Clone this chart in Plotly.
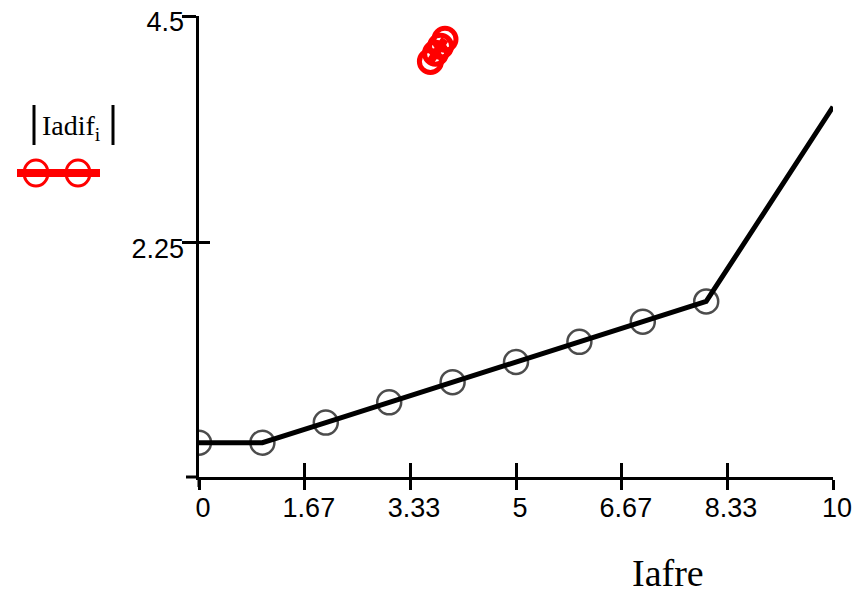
import plotly.graph_objects as go

# ---- data ----
iafre = [0, 1, 2, 3, 4, 5, 6, 7, 8, 10]
iadif = [0.27, 0.27, 0.47, 0.67, 0.87, 1.07, 1.27, 1.47, 1.67, 3.6]
red_x = [3.65, 3.73, 3.81, 3.88]
red_y = [4.05, 4.13, 4.20, 4.27]
x_ticks = [0, 1.67, 3.33, 5, 6.67, 8.33, 10]
x_tick_text = ["0", "1.67", "3.33", "5", "6.67", "8.33", "10"]
y_ticks = [2.25, 4.5]
y_tick_text = ["2.25", "4.5"]

# page is rendered with an 8px body margin; plan in page pixels
OFF = 8
PAGE_W, PAGE_H = 866, 591
W, H = PAGE_W - OFF, PAGE_H - OFF
PL, PR, PT, PB = 199, 833, 16, 477          # plot area in page pixels
L, T = PL - OFF, PT - OFF
R, B = W - (PR - OFF), H - (PB - OFF)
PW, PH = PR - PL, PB - PT

def px(x):
    return (x - PL) / PW

def py(y):
    return (PB - y) / PH

fig = go.Figure()

black_sizes = [24] * (len(iafre) - 1) + [0]
fig.add_trace(go.Scatter(
    x=iafre, y=iadif, mode="lines+markers",
    line=dict(color="black", width=5),
    marker=dict(symbol="circle-open", size=black_sizes, color="black",
                line=dict(color="black", width=2.5)),
    showlegend=False, hoverinfo="skip"))

fig.add_trace(go.Scatter(
    x=red_x, y=red_y, mode="lines+markers",
    line=dict(color="#ff0000", width=8),
    marker=dict(symbol="circle-open", size=22, color="#ff0000",
                line=dict(color="#ff0000", width=5)),
    showlegend=False, hoverinfo="skip"))

# dummy trace to activate overlay axes
fig.add_trace(go.Scatter(x=[None], y=[None], xaxis="x2", yaxis="y2",
                         showlegend=False, hoverinfo="skip"))

axis_font = dict(family="Liberation Sans", size=27, color="black")
xr = [0, 10]
yr = [-0.07, 4.5]

fig.update_layout(
    width=W, height=H,
    margin=dict(l=L, r=R, t=T, b=B, autoexpand=False),
    paper_bgcolor="white", plot_bgcolor="white",
    xaxis=dict(range=xr, tickmode="array", tickvals=x_ticks,
               showticklabels=False, automargin=False,
               showgrid=False, zeroline=False, showline=True, linecolor="black",
               linewidth=3, ticks="outside", ticklen=10, tickwidth=3,
               tickcolor="black"),
    yaxis=dict(range=yr, tickmode="array", tickvals=y_ticks,
               showticklabels=False, automargin=False,
               showgrid=False, zeroline=False, showline=True, linecolor="black",
               linewidth=3, ticks="outside", ticklen=14, tickwidth=3,
               tickcolor="black"),
    xaxis2=dict(range=xr, overlaying="x", tickmode="array", tickvals=x_ticks,
                ticktext=x_tick_text, tickfont=axis_font, automargin=False,
                showgrid=False, zeroline=False, ticklabelstandoff=12,
                ticklabelshift=4, ticklabeloverflow="allow",
                ticks="inside", ticklen=14, tickwidth=3, tickcolor="black",
                side="bottom", anchor="y"),
    yaxis2=dict(range=yr, overlaying="y", tickmode="array", tickvals=y_ticks,
                ticktext=y_tick_text, tickfont=axis_font, automargin=False,
                showgrid=False, zeroline=False, ticklabelstandoff=14,
                ticklabelshift=6, ticklabeloverflow="allow",
                ticks="inside", ticklen=11, tickwidth=3, tickcolor="black",
                side="left", anchor="x"),
)

# axis extensions (Mathcad style)
fig.add_shape(type="line", xref="paper", yref="paper",
              x0=px(186), x1=0, y0=0, y1=0, line=dict(color="black", width=3))
fig.add_shape(type="line", xref="paper", yref="paper",
              x0=0, x1=0, y0=py(487), y1=0, line=dict(color="black", width=3))

# legend: |Iadif_i| label and red line-with-circles sample
fig.add_annotation(xref="paper", yref="paper", x=px(71), y=py(127),
                   text="Iadif<sub>i</sub>", showarrow=False,
                   font=dict(family="Liberation Serif", size=28, color="black"),
                   xanchor="center", yanchor="middle")
for bx in (34, 113):
    fig.add_shape(type="line", xref="paper", yref="paper",
                  x0=px(bx), x1=px(bx), y0=py(145), y1=py(105),
                  line=dict(color="black", width=3))
fig.add_shape(type="line", xref="paper", yref="paper",
              x0=px(17), x1=px(100), y0=py(173), y1=py(173),
              line=dict(color="#ff0000", width=8))
for cx in (36, 78):
    fig.add_shape(type="circle", xref="paper", yref="paper",
                  x0=px(cx - 12), x1=px(cx + 12), y0=py(186), y1=py(160),
                  line=dict(color="#ff0000", width=3))

# x axis title
fig.add_annotation(xref="paper", yref="paper", x=px(668), y=py(573),
                   text="Iafre", showarrow=False,
                   font=dict(family="Liberation Serif", size=38, color="black"),
                   xanchor="center", yanchor="middle")

fig.write_html("out.html")
